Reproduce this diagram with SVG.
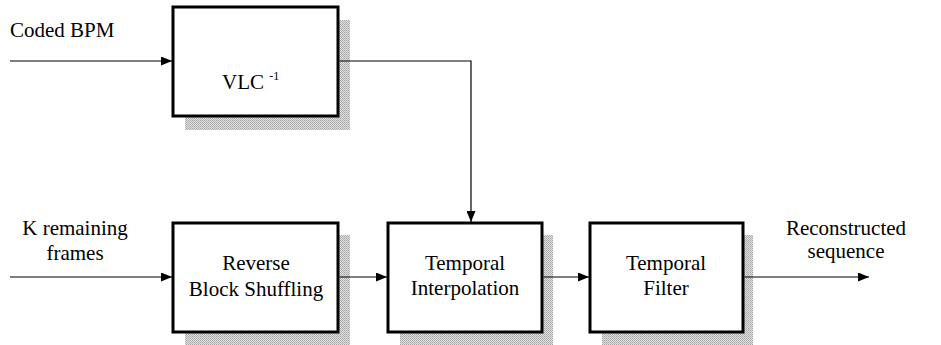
<svg xmlns="http://www.w3.org/2000/svg" width="941" height="345" viewBox="0 0 941 345">
  <style>
    .box { fill: #ffffff; stroke: #000000; stroke-width: 3; }
    .shadow { fill: url(#dither); stroke: none; }
    .label { font-family: "Liberation Serif", "Times New Roman", serif; font-size: 21px; fill: #000000; }
    .mid { text-anchor: middle; }
    .wire { fill: none; stroke: #000000; stroke-width: 1.2; }
  </style>
  <defs>
    <!-- stippled grey used for the drop shadows -->
    <pattern id="dither" width="2" height="2" patternUnits="userSpaceOnUse">
      <rect width="2" height="2" fill="#e2e2e2"/>
      <rect x="0" y="0" width="1" height="1" fill="#a4a4a4"/>
      <rect x="1" y="1" width="1" height="1" fill="#b4b4b4"/>
    </pattern>
    <marker id="arrow" markerWidth="11" markerHeight="9" refX="11" refY="4.5" orient="auto" markerUnits="userSpaceOnUse">
      <path d="M0,0 L11,4.5 L0,9 Z" fill="#000000"/>
    </marker>
  </defs>

  <!-- free-standing input / output labels -->
  <text class="label" x="10" y="37">Coded BPM</text>
  <text class="label mid" x="75" y="235">K remaining</text>
  <text class="label mid" x="75" y="260">frames</text>
  <text class="label mid" x="846" y="235">Reconstructed</text>
  <text class="label mid" x="846" y="258">sequence</text>

  <g id="vlc">
    <rect class="shadow" x="185" y="20" width="165" height="110"/>
    <rect class="box" x="173" y="7" width="165" height="109"/>
    <text class="label" x="222" y="89">VLC <tspan font-size="12" dy="-9">-1</tspan></text>
  </g>

  <g id="reverse-block-shuffling">
    <rect class="shadow" x="185" y="235" width="165" height="110"/>
    <rect class="box" x="173" y="223" width="165" height="109"/>
    <text class="label mid" x="256" y="270">Reverse</text>
    <text class="label mid" x="256" y="296">Block Shuffling</text>
  </g>

  <g id="temporal-interpolation">
    <rect class="shadow" x="400" y="235" width="153" height="110"/>
    <rect class="box" x="388" y="223" width="154" height="109"/>
    <text class="label mid" x="465" y="270">Temporal</text>
    <text class="label mid" x="465" y="295">Interpolation</text>
  </g>

  <g id="temporal-filter">
    <rect class="shadow" x="602" y="235" width="151" height="110"/>
    <rect class="box" x="590" y="223" width="153" height="109"/>
    <text class="label mid" x="666" y="270">Temporal</text>
    <text class="label mid" x="666" y="295">Filter</text>
  </g>

  <g id="connectors">
    <line class="wire" x1="10" y1="61" x2="172" y2="61" marker-end="url(#arrow)"/>
    <polyline class="wire" points="339.5,61 471,61 471,222" marker-end="url(#arrow)"/>
    <line class="wire" x1="10" y1="277" x2="172" y2="277" marker-end="url(#arrow)"/>
    <line class="wire" x1="339.5" y1="277" x2="387" y2="277" marker-end="url(#arrow)"/>
    <line class="wire" x1="543.5" y1="277" x2="589" y2="277" marker-end="url(#arrow)"/>
    <line class="wire" x1="744.5" y1="277" x2="869" y2="277" marker-end="url(#arrow)"/>
  </g>
</svg>
